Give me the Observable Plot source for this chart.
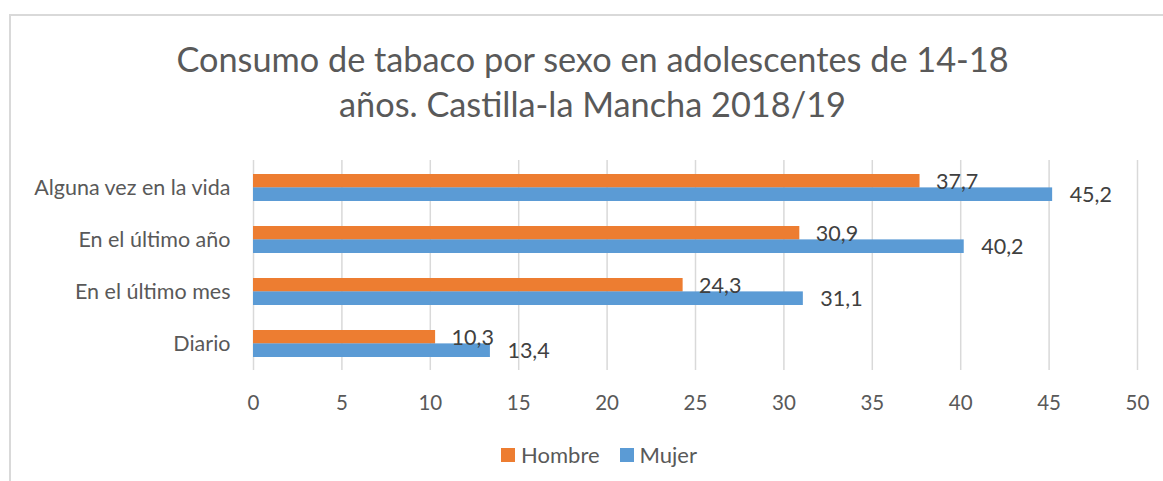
<!DOCTYPE html>
<html>
<head>
<meta charset="utf-8">
<script src="https://cdn.jsdelivr.net/npm/d3@7"></script>
<script src="https://cdn.jsdelivr.net/npm/@observablehq/plot@0.6"></script>
<style>
  html, body { margin: 0; padding: 0; background: #fff; }
  #wrap { position: relative; width: 1163px; height: 481px; overflow: hidden; font-family: Lato, "Open Sans", sans-serif; }
  #border { position: absolute; left: 9px; top: 14px; width: 1300px; height: 600px; border-left: 2px solid #d9d9d9; border-top: 2px solid #d9d9d9; }
  #title { position: absolute; left: 0; top: 36px; width: 1185px; text-align: center; font-size: 34.3px; line-height: 45px; color: #595959; }
  #chart { position: absolute; left: 0; top: 140px; }
  #legend { position: absolute; left: 0; top: 441px; width: 1198px; display: flex; justify-content: center; align-items: center; font-size: 22px; color: #595959; line-height: 28px; }
  .item { display: flex; align-items: center; margin: 0 10px; }
  .sw { width: 14px; height: 14px; margin-right: 6px; }
</style>
</head>
<body>
<div id="wrap">
  <div id="border"></div>
  <div id="title">Consumo de tabaco por sexo en adolescentes de 14-18<br>años. Castilla-la Mancha 2018/19</div>
  <div id="chart"></div>
  <div id="legend"></div>
</div>
<script>
const categories = ["Alguna vez en la vida", "En el último año", "En el último mes", "Diario"];
const series = ["Hombre", "Mujer"];
const hombre = [37.7, 30.9, 24.3, 10.3];
const mujer = [45.2, 40.2, 31.1, 13.4];
const xTicks = [0, 5, 10, 15, 20, 25, 30, 35, 40, 45, 50];
const colors = ["#ED7D31", "#5B9BD5"];

const rows = categories.flatMap((c, i) => [
  {cat: c, sexo: series[0], value: hombre[i]},
  {cat: c, sexo: series[1], value: mujer[i]}
]);
const hRows = rows.filter(d => d.sexo === series[0]);
const mRows = rows.filter(d => d.sexo === series[1]);
const fmt = d => d.value.toFixed(1).replace(".", ",");

const H = 290, mT = 20, mB = 60;
const pInner = 0.49, pOuter = 0.245;
const step = (H - mT - mB) / (categories.length - pInner + 2 * pOuter);
const half = step * (1 - pInner) / 2;

const chart = Plot.plot({
  width: 1163,
  height: H,
  marginTop: mT,
  marginBottom: mB,
  marginLeft: 253,
  marginRight: 26,
  style: {fontFamily: "Lato, 'Open Sans', sans-serif", color: "#595959", background: "transparent"},
  x: {domain: [0, 50]},
  y: {domain: categories, paddingInner: pInner, paddingOuter: pOuter, align: 0.5},
  marks: [
    Plot.ruleX(xTicks, {stroke: "#d9d9d9", strokeWidth: 1.5}),
    Plot.barX(hRows, {x: "value", y: "cat", fill: colors[0], insetBottom: half}),
    Plot.barX(mRows, {x: "value", y: "cat", fill: colors[1], insetTop: half}),
    Plot.text(hRows, {x: "value", y: "cat", text: fmt, dx: 16, dy: -5.5, textAnchor: "start", fontSize: 21.5, fill: "#404040"}),
    Plot.text(mRows, {x: "value", y: "cat", text: fmt, dx: 17, dy: 7, textAnchor: "start", fontSize: 21.5, fill: "#404040"}),
    Plot.axisX({ticks: xTicks, tickSize: 0, tickPadding: 25, fontSize: 20.5, label: null}),
    Plot.axisY({tickSize: 0, tickPadding: 23, fontSize: 21.5, label: null})
  ]
});
document.getElementById("chart").appendChild(chart);

const legend = document.getElementById("legend");
series.forEach((s, i) => {
  const item = document.createElement("div");
  item.className = "item";
  const sw = document.createElement("div");
  sw.className = "sw";
  sw.style.background = colors[i];
  const t = document.createElement("span");
  t.textContent = s;
  item.appendChild(sw);
  item.appendChild(t);
  legend.appendChild(item);
});
</script>
</body>
</html>
